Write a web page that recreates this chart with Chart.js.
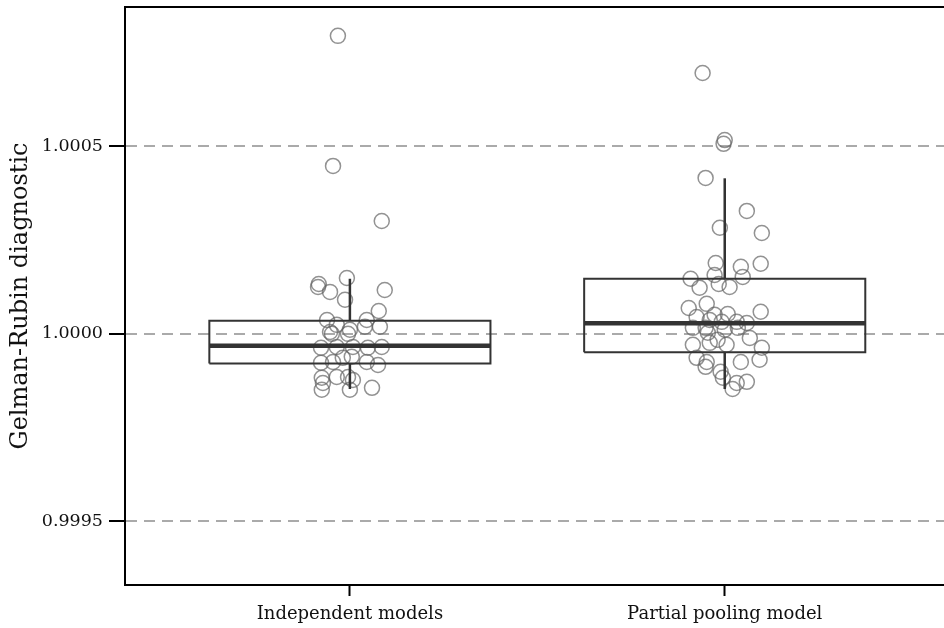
<!DOCTYPE html>
<html>
<head>
<meta charset="utf-8">
<script src="https://cdn.jsdelivr.net/npm/chart.js@4.4.1/dist/chart.umd.min.js"></script>
<style>
  html, body { margin: 0; padding: 0; background: #ffffff; }
  #wrap { width: 944px; height: 628px; }
</style>
</head>
<body>
<div id="wrap"><canvas id="c" width="944" height="628"></canvas></div>
<script>
// ---- data ----
const categories = ['Independent models', 'Partial pooling model'];
const yTickValues = [0.9995, 1.0000, 1.0005];
const yTitle = 'Gelman-Rubin diagnostic';

// box statistics per category (lower whisker, Q1, median, Q3, upper whisker)
const whiskerLow  = [0.999853, 0.999853];
const boxQ1       = [0.999921, 0.999951];
const boxMedian   = [0.999968, 1.0000285];
const boxQ3       = [1.0000347, 1.000147];
const whiskerHigh = [1.000147, 1.000415];

// jittered observations: horizontal jitter (in category units) and values
const indepJitter = [-0.032, -0.045, 0.085, -0.083, -0.085, -0.053, -0.008, -0.013, 0.093, 0.077,
  -0.061, -0.035, 0.045, 0.000, -0.053, 0.040, 0.080, -0.048, -0.005, -0.077,
  -0.035, 0.008, 0.048, 0.085, -0.077, -0.045, -0.019, 0.005, 0.045, 0.075,
  -0.075, -0.072, -0.035, -0.005, 0.008, 0.000, 0.059, -0.075];
const indepValues = [1.000795, 1.000448, 1.000301, 1.000133, 1.000125, 1.000112, 1.000149, 1.000091, 1.000117, 1.000061,
  1.000037, 1.000024, 1.000037, 1.000011, 1.000005, 1.000019, 1.000019, 1.000000, 1.000000, 0.999963,
  0.999965, 0.999965, 0.999963, 0.999965, 0.999923, 0.999925, 0.999936, 0.999939, 0.999925, 0.999917,
  0.999883, 0.999869, 0.999885, 0.999885, 0.999877, 0.999851, 0.999856, 0.999851];

const poolJitter = [-0.059, 0.000, -0.003, -0.051, 0.059, -0.013, 0.099, -0.024, 0.043, 0.096,
  -0.091, -0.027, 0.048, -0.067, -0.016, 0.013, -0.096, -0.048, 0.096, -0.075,
  -0.027, 0.008, -0.040, -0.008, 0.032, 0.059, -0.085, -0.051, 0.000, 0.035,
  -0.045, 0.067, -0.085, -0.040, -0.019, 0.005, 0.099, -0.075, -0.048, -0.051,
  0.043, 0.093, -0.011, -0.005, 0.059, 0.032, 0.021];
const poolValues = [1.000696, 1.000517, 1.000507, 1.000416, 1.000328, 1.000283, 1.000269, 1.000189, 1.000179, 1.000187,
  1.000147, 1.000157, 1.000152, 1.000123, 1.000133, 1.000125, 1.000069, 1.000080, 1.000059, 1.000045,
  1.000051, 1.000053, 1.000037, 1.000032, 1.000032, 1.000029, 1.000016, 1.000016, 1.000011, 1.000016,
  1.000003, 0.999989, 0.999971, 0.999976, 0.999984, 0.999971, 0.999963, 0.999936, 0.999925, 0.999912,
  0.999925, 0.999931, 0.999899, 0.999883, 0.999872, 0.999869, 0.999853];

// ---- build datasets ----
const BOX_HALF = 0.375;
const lineColor = '#333333';
const pointSets = [
  { jitter: indepJitter, values: indepValues },
  { jitter: poolJitter, values: poolValues }
];

const datasets = [];
pointSets.forEach((s, i) => {
  const cx = i + 1;
  datasets.push({
    type: 'scatter',
    data: s.values.map((v, k) => ({ x: cx + s.jitter[k], y: v })),
    pointRadius: 7.5,
    pointBorderWidth: 1.5,
    pointBorderColor: 'rgba(100,100,100,0.7)',
    pointBackgroundColor: 'rgba(0,0,0,0)',
    order: 2
  });
});

categories.forEach((c, i) => {
  const cx = i + 1;
  const lineDs = (pts, w) => ({
    type: 'line',
    data: pts,
    borderColor: lineColor,
    borderWidth: w,
    pointRadius: 0,
    fill: false,
    tension: 0,
    order: 1
  });
  // box outline
  datasets.push(lineDs([
    { x: cx - BOX_HALF, y: boxQ1[i] }, { x: cx + BOX_HALF, y: boxQ1[i] },
    { x: cx + BOX_HALF, y: boxQ3[i] }, { x: cx - BOX_HALF, y: boxQ3[i] },
    { x: cx - BOX_HALF, y: boxQ1[i] }
  ], 2));
  // median
  datasets.push(lineDs([{ x: cx - BOX_HALF, y: boxMedian[i] }, { x: cx + BOX_HALF, y: boxMedian[i] }], 4.5));
  // whiskers
  datasets.push(lineDs([{ x: cx, y: boxQ3[i] }, { x: cx, y: whiskerHigh[i] }], 2.5));
  datasets.push(lineDs([{ x: cx, y: boxQ1[i] }, { x: cx, y: whiskerLow[i] }], 2.5));
});

const topBorder = {
  id: 'topBorder',
  afterDraw(chart) {
    const { ctx, chartArea } = chart;
    ctx.save();
    ctx.strokeStyle = '#000';
    ctx.lineWidth = 2;
    ctx.beginPath();
    ctx.moveTo(chartArea.left - 1, chartArea.top);
    ctx.lineTo(chartArea.right, chartArea.top);
    ctx.stroke();
    ctx.restore();
  }
};

const FONT = '"DejaVu Serif", "Liberation Serif", serif';

new Chart(document.getElementById('c'), {
  type: 'scatter',
  data: { datasets },
  plugins: [topBorder],
  options: {
    responsive: false,
    devicePixelRatio: 1,
    animation: false,
    layout: { padding: { top: 7, right: 0, left: 0, bottom: 0 }, autoPadding: false },
    plugins: { legend: { display: false }, tooltip: { enabled: false } },
    scales: {
      x: {
        type: 'linear',
        min: 0.4,
        max: 2.585,
        afterFit(scale) { scale.height = 43; scale.paddingLeft = 0; scale.paddingRight = 0; },
        afterBuildTicks(scale) { scale.ticks = categories.map((c, i) => ({ value: i + 1 })); },
        ticks: {
          autoSkip: false,
          maxRotation: 0,
          padding: 8,
          color: '#111',
          font: { family: FONT, size: 18 },
          callback: (v) => categories[Math.round(v) - 1]
        },
        grid: {
          drawOnChartArea: false,
          drawTicks: true,
          tickLength: 11,
          tickColor: '#000',
          tickWidth: 2
        },
        border: { display: true, color: '#000', width: 2 }
      },
      y: {
        type: 'linear',
        min: 0.99933,
        max: 1.000872,
        afterFit(scale) { scale.width = 125; scale.paddingTop = 0; scale.paddingBottom = 0; },
        afterBuildTicks(scale) { scale.ticks = yTickValues.map(v => ({ value: v })); },
        ticks: {
          padding: 6,
          color: '#111',
          font: { family: FONT, size: 17.5 },
          callback: (v) => Number(v).toFixed(4)
        },
        title: {
          display: true,
          text: yTitle,
          color: '#111',
          font: { family: FONT, size: 24 },
          padding: { top: 6, bottom: 0 }
        },
        grid: {
          drawOnChartArea: true,
          color: '#aaaaaa',
          lineWidth: 2,
          drawTicks: true,
          tickLength: 16,
          tickColor: '#000',
          tickWidth: 2,
          tickBorderDash: []
        },
        border: { display: true, color: '#000', width: 2, dash: [11, 7] }
      }
    }
  }
});
</script>
</body>
</html>
